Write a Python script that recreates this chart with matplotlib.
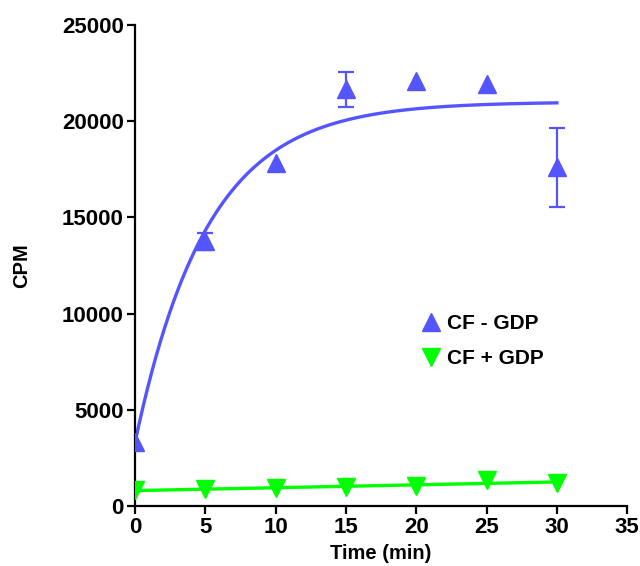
import numpy as np
import matplotlib
matplotlib.use("Agg")
import matplotlib.pyplot as plt

plt.rcParams['font.family'] = ['Liberation Sans', 'DejaVu Sans']
plt.rcParams['font.weight'] = 'bold'

# Measured data
time_min = [0, 5, 10, 15, 20, 25, 30]
cpm_minus_gdp = [3350, 13750, 17800, 21650, 22100, 21950, 17600]
err_minus_gdp = [0, 430, 0, 900, 0, 0, 2050]
cpm_plus_gdp = [830, 880, 940, 1000, 1050, 1350, 1200]

# Fit parameters: one-phase association for -GDP, linear for +GDP
assoc_y0 = 3300
assoc_plateau = 21000
assoc_k = 0.195
lin_intercept = 800
lin_slope = 15

blue = '#5555FF'
green = '#00FF00'

fig = plt.figure(figsize=(6.4, 5.66), dpi=100)
ax = fig.add_axes([0.211, 0.106, 0.769, 0.850])

t_fit = np.linspace(0, 30, 300)
y_assoc = assoc_y0 + (assoc_plateau - assoc_y0) * (1 - np.exp(-assoc_k * t_fit))
y_lin = lin_intercept + lin_slope * t_fit

ax.plot(t_fit, y_assoc, color=blue, lw=2.4, zorder=2)
ax.plot(t_fit, y_lin, color=green, lw=2.4, zorder=2)

t = np.array(time_min)
e = np.array(err_minus_gdp)
y1 = np.array(cpm_minus_gdp)
m = e > 0
ax.errorbar(t[m], y1[m], yerr=e[m], fmt='none', ecolor=blue, elinewidth=1.6,
            capsize=6, capthick=1.6, zorder=3)

ax.plot(t, y1, linestyle='none', marker='^', markersize=13, color=blue,
        label='CF - GDP', zorder=4)
ax.plot(t, cpm_plus_gdp, linestyle='none', marker='v', markersize=13, color=green,
        label='CF + GDP', zorder=4)

ax.set_xlim(0, 35)
ax.set_ylim(0, 25000)
ax.set_xticks(range(0, 36, 5))
ax.set_yticks(range(0, 25001, 5000))

for s in ['top', 'right']:
    ax.spines[s].set_visible(False)
for s in ['left', 'bottom']:
    ax.spines[s].set_linewidth(1.6)
ax.tick_params(width=1.6, length=6, labelsize=16, direction='out', pad=2)
for lab in ax.get_xticklabels() + ax.get_yticklabels():
    lab.set_fontweight('bold')

ax.set_xlabel('Time (min)', fontsize=14.5, fontweight='bold', labelpad=4)
ax.set_ylabel('CPM', fontsize=14.5, fontweight='bold', labelpad=22)

ax.legend(loc='center left', bbox_to_anchor=(0.537, 0.343), frameon=False,
          prop={'size': 15, 'weight': 'bold'}, handletextpad=0.2,
          handlelength=1.2, labelspacing=0.75)

fig.savefig('out.png', dpi=100)
